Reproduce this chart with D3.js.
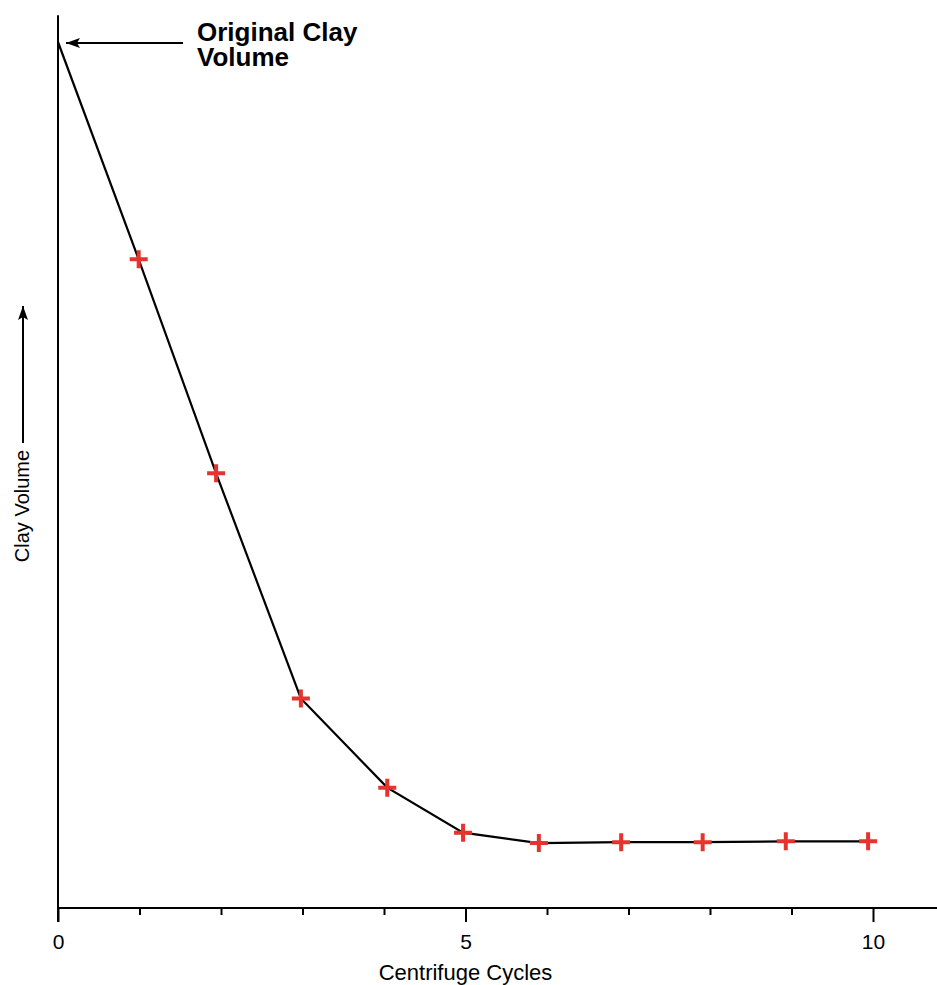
<!DOCTYPE html>
<html>
<head>
<meta charset="utf-8">
<script src="https://cdn.jsdelivr.net/npm/d3@7"></script>
<style>
  body { margin: 0; background: #fff; }
  text { font-family: "Liberation Sans", Arial, Helvetica, sans-serif; }
</style>
</head>
<body>
<div id="chart-area"></div>
<script>
// cycles run and relative clay volume (original = 100)
const cycles = [0, 0.99, 1.94, 2.98, 4.04, 4.97, 5.9, 6.91, 7.91, 8.93, 9.94];
const volume = [100, 74.9, 50.2, 24.2, 13.9, 8.7, 7.5, 7.6, 7.6, 7.7, 7.7];
const majorTicks = [0, 5, 10];
const minorTicks = [1, 2, 3, 4, 6, 7, 8, 9];

const width = 937;
const height = 985;

const svg = d3.select("#chart-area").append("svg")
    .attr("width", width)
    .attr("height", height);

const x = d3.scaleLinear().domain([0, 10]).range([58, 873]);
const y = d3.scaleLinear().domain([0, 100]).range([908, 42]);

svg.append("defs").append("marker")
    .attr("id", "head")
    .attr("viewBox", "0 0 14 10")
    .attr("refX", 14)
    .attr("refY", 5)
    .attr("markerWidth", 14)
    .attr("markerHeight", 10)
    .attr("markerUnits", "userSpaceOnUse")
    .attr("orient", "auto")
    .append("path")
    .attr("d", "M0,0 L14,5 L0,10 L3,5 Z")
    .attr("fill", "#000");

// axes
const minorAxis = svg.append("g")
    .attr("transform", "translate(0," + y(0) + ")")
    .call(d3.axisBottom(x).tickValues(minorTicks).tickSize(7).tickFormat(""));

const majorAxis = svg.append("g")
    .attr("transform", "translate(0," + y(0) + ")")
    .call(d3.axisBottom(x).tickValues(majorTicks).tickSize(14).tickPadding(12));

svg.selectAll(".domain").remove();
svg.selectAll(".tick line").attr("stroke", "#000").attr("stroke-width", 2);
majorAxis.selectAll("text")
    .attr("fill", "#000")
    .style("font-size", "21px")
    .style("font-family", "'Liberation Sans', Arial, sans-serif");

svg.append("line")
    .attr("x1", x(0)).attr("x2", width)
    .attr("y1", y(0)).attr("y2", y(0))
    .attr("stroke", "#000").attr("stroke-width", 2);

svg.append("line")
    .attr("x1", x(0)).attr("x2", x(0))
    .attr("y1", y(103.1)).attr("y2", y(0) + 14)
    .attr("stroke", "#000").attr("stroke-width", 2);

svg.append("text")
    .attr("x", x(5))
    .attr("y", 980)
    .attr("text-anchor", "middle")
    .style("font-size", "22px")
    .text("Centrifuge Cycles");

svg.append("text")
    .attr("transform", "translate(29,506) rotate(-90)")
    .attr("text-anchor", "middle")
    .style("font-size", "20px")
    .text("Clay Volume");

svg.append("line")
    .attr("x1", 23).attr("x2", 23)
    .attr("y1", 443).attr("y2", 306)
    .attr("stroke", "#000").attr("stroke-width", 2)
    .attr("marker-end", "url(#head)");

// data
const data = cycles.map((c, i) => ({cycle: c, volume: volume[i]}));

const line = d3.line()
    .x((d) => x(d.cycle))
    .y((d) => y(d.volume));

svg.append("path")
    .datum(data)
    .attr("d", line)
    .attr("fill", "none")
    .attr("stroke", "#000")
    .attr("stroke-width", 2.2);

const plus = svg.selectAll(".plus").data(data.slice(1))
    .enter().append("path")
    .attr("class", "plus")
    .attr("d", (d) => {
      const cx = x(d.cycle), cy = y(d.volume), r = 9;
      return "M" + (cx - r) + "," + cy + "H" + (cx + r) +
        "M" + cx + "," + (cy - r) + "V" + (cy + r);
    })
    .attr("stroke", "#e5332e")
    .attr("stroke-width", 4)
    .attr("fill", "none");

// annotation for the starting volume
svg.append("line")
    .attr("x1", 183).attr("x2", x(0) + 8)
    .attr("y1", y(100) + 1).attr("y2", y(100) + 1)
    .attr("stroke", "#000").attr("stroke-width", 2)
    .attr("marker-end", "url(#head)");

const note = svg.append("text")
    .attr("x", 197)
    .attr("y", 41)
    .style("font-size", "26px")
    .style("font-weight", "bold");
note.append("tspan").attr("x", 197).text("Original Clay");
note.append("tspan").attr("x", 197).attr("dy", 25).text("Volume");
</script>
</body>
</html>
